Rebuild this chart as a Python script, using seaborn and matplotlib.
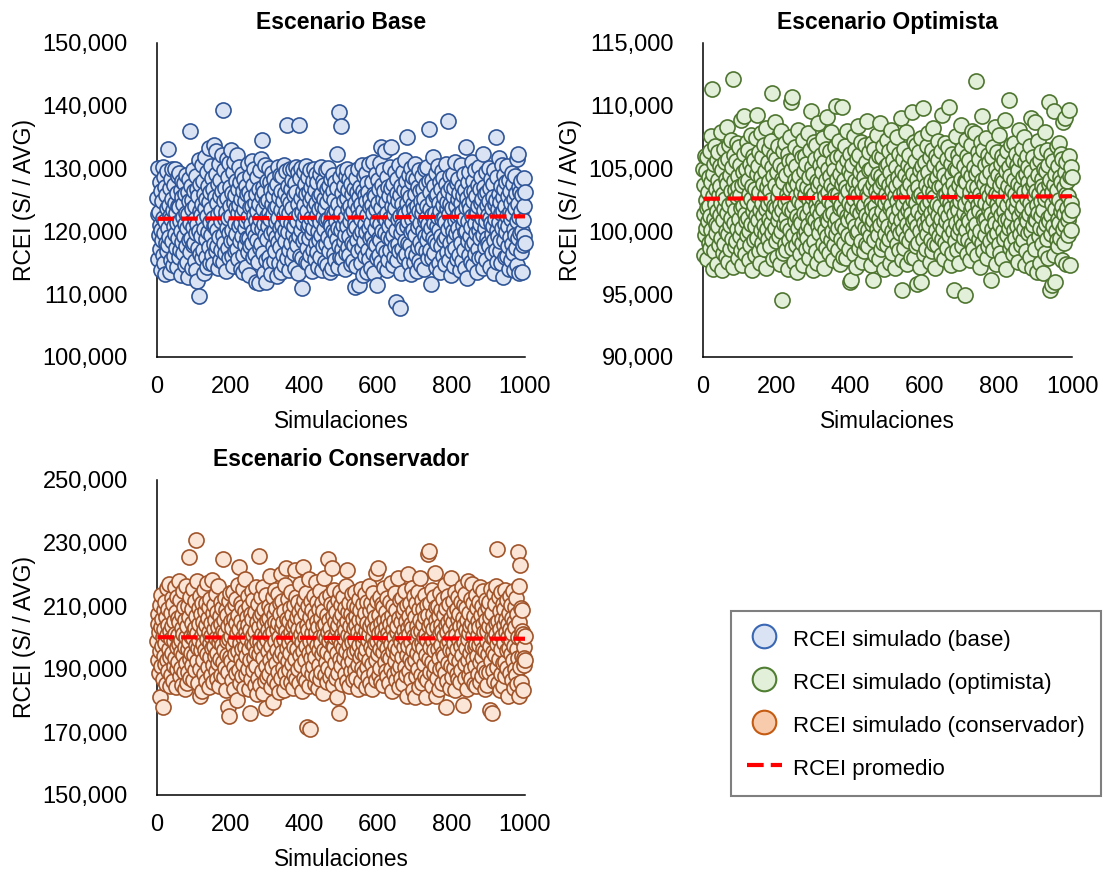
import numpy as np
import pandas as pd
import matplotlib
matplotlib.use('Agg')
import matplotlib.pyplot as plt
import seaborn as sns
from matplotlib.ticker import FuncFormatter
from matplotlib.lines import Line2D

# RCEI simulado por escenario (S/ / AVG), 1000 simulaciones cada uno
rcei_base = [
    125300, 122800, 130100, 115600, 119400, 123100, 127900, 117200, 121000, 113800, 126400, 120300, 118700, 124900, 130200, 116300, 122100, 128600, 114900, 119800,
    127100, 121600, 113200, 125800, 118100, 129600, 123700, 116900, 120600, 133100, 117800, 124200, 119100, 126900, 113600, 122500, 128300, 115400, 121900, 125100,
    118400, 129900, 114700, 123400, 120900, 127400, 116100, 124600, 119600, 130000, 117400, 122900, 126100, 114300, 121300, 128900, 118900, 124000, 115900, 123900,
    129300, 117000, 121700, 126600, 113100, 120100, 125500, 118300, 128100, 122300, 116600, 124400, 119300, 127700, 114600, 121100, 125900, 117600, 129000, 123000,
    115100, 120500, 126200, 112800, 122700, 118600, 128400, 124800, 136000, 116700, 121400, 127200, 119000, 125000, 114100, 123600, 117900, 129700, 120700, 126500,
    118200, 124100, 115300, 122000, 128800, 119700, 113900, 126700, 121200, 112100, 117300, 125700, 120000, 131300, 109700, 123300, 127600, 116400, 122600, 119200,
    130600, 115700, 124300, 121800, 117100, 128000, 113400, 126000, 120400, 123800, 131900, 116000, 125200, 118800, 129400, 122400, 114400, 127300, 119900, 124700,
    133300, 117500, 121500, 126300, 115000, 130400, 119500, 123500, 128500, 116200, 122200, 114800, 126800, 120800, 133700, 118000, 125400, 121000, 129100, 116800,
    132800, 120200, 124500, 117700, 127500, 114200, 122800, 130800, 119100, 125600, 115500, 128200, 121600, 123200, 117000, 132200, 126400, 119400, 115200, 139300,
    124900, 118100, 129800, 121900, 116500, 126900, 113700, 123100, 131500, 120600, 125300, 117400, 128700, 122100, 115800, 130900, 119800, 124000, 127000, 118500,
    133000, 122500, 116100, 126100, 120300, 129500, 114500, 124600, 118700, 131100, 121400, 125800, 116900, 128000, 119600, 123700, 132100, 117200, 122900, 126700,
    115600, 130300, 120900, 124200, 118400, 127800, 121300, 114000, 125100, 119300, 129200, 122700, 116300, 126500, 113500, 123500, 128400, 120500, 117800, 124800,
    114300, 127200, 121700, 118900, 125900, 130700, 116700, 122300, 119000, 126200, 113000, 123900, 128900, 117600, 121100, 125500, 131200, 118200, 124100, 120100,
    127400, 115900, 122600, 130000, 119200, 124500, 116400, 112000, 126000, 121800, 118600, 128600, 123300, 115100, 120700, 126800, 111800, 124300, 129700, 117300,
    122000, 131600, 118000, 125700, 134500, 120400, 116600, 123600, 127100, 113300, 121200, 126300, 119500, 130500, 115400, 124700, 111900, 122400, 128100, 118800,
    125000, 120800, 130100, 116000, 123000, 127900, 114800, 121900, 126600, 119700, 113200, 124400, 129300, 117700, 122800, 125600, 115300, 120000, 128300, 123800,
    116800, 126900, 121500, 119100, 112900, 127600, 124000, 118300, 130200, 122100, 115000, 125400, 120600, 129000, 117500, 123400, 113600, 126400, 121000, 119400,
    128800, 116200, 124900, 122500, 114600, 130600, 120200, 126100, 118500, 123200, 129600, 115700, 121700, 137000, 125200, 119900, 127300, 113800, 122900, 117100,
    124600, 130000, 118100, 126800, 121400, 115500, 128200, 123700, 119600, 129900, 116500, 125800, 120900, 114100, 127700, 122200, 118700, 126200, 130300, 121600,
    117900, 124300, 129500, 113400, 137000, 122700, 119300, 128500, 116100, 125300, 120300, 130100, 123100, 115800, 111000, 126500, 121300, 118400, 129400, 124200,
    119000, 127500, 122400, 115200, 125900, 130400, 117400, 123300, 120700, 128700, 114900, 126300, 121100, 118900, 124800, 129800, 116300, 122100, 127000, 119800,
    113700, 125500, 120500, 128100, 117000, 123900, 130000, 115600, 126600, 121900, 118200, 124500, 129200, 116700, 122600, 127900, 114400, 120100, 125700, 123500,
    118600, 129100, 121500, 116000, 126000, 130200, 119500, 124100, 113900, 122300, 128000, 117700, 125100, 120400, 127400, 115100, 123700, 129700, 118000, 121800,
    126700, 114700, 124700, 119100, 130100, 122000, 116800, 127200, 121200, 125600, 113500, 120800, 128400, 118300, 123000, 114200, 126400, 120000, 129000, 122800,
    116400, 125000, 119700, 127800, 115400, 123400, 121700, 126900, 118800, 132300, 120600, 114300, 124400, 117600, 139000, 122500, 115900, 128600, 120200, 136800,
    123100, 117200, 126100, 115700, 129600, 121000, 124900, 118500, 127300, 114000, 122200, 119400, 128800, 116600, 125300, 120900, 130000, 117500, 123600, 126600,
    119200, 128300, 116200, 124000, 121600, 114800, 127600, 122700, 118100, 125900, 129400, 115300, 123300, 120300, 126800, 117800, 111200, 124600, 121400, 128500,
    114500, 120700, 126200, 118700, 123800, 116900, 129900, 122400, 111500, 125400, 119600, 127100, 115000, 121900, 124300, 117300, 130500, 120000, 126500, 113100,
    123200, 128900, 118400, 121100, 125800, 116100, 129300, 119900, 124800, 113600, 122600, 127700, 117100, 126300, 120500, 130800, 115600, 123900, 118900, 125200,
    121300, 114100, 127900, 119300, 124200, 116500, 131000, 122900, 118200, 126000, 113300, 120400, 125600, 117900, 129100, 123500, 115800, 121700, 111500, 128200,
    124500, 119000, 126700, 116300, 130900, 121200, 118600, 133500, 123800, 115200, 127400, 120100, 125100, 117400, 129800, 122300, 114400, 126400, 119700, 132800,
    116700, 124700, 121800, 128600, 113800, 123000, 119100, 127000, 115400, 125700, 120800, 130300, 117000, 122100, 126900, 133500, 118800, 124100, 121500, 114700,
    127500, 119500, 125300, 116000, 122800, 129400, 117600, 123700, 120200, 108700, 126100, 115500, 128300, 121900, 118000, 124900, 130600, 116900, 122500, 107800,
    125800, 119800, 113400, 127200, 121000, 124400, 117200, 129500, 120600, 126600, 115900, 123100, 118500, 131400, 122700, 116400, 128100, 120900, 124600, 135000,
    118100, 126200, 121600, 114900, 129000, 123400, 117800, 125500, 119900, 130100, 113200, 122000, 127800, 116600, 124300, 120300, 128700, 115100, 123600, 130700,
    119400, 125900, 122400, 116200, 128400, 113700, 124000, 120700, 127100, 117500, 123200, 129700, 115300, 121400, 126500, 118300, 124800, 114600, 122900, 128900,
    117300, 123900, 120000, 126800, 114000, 125200, 119200, 129900, 121700, 116800, 127600, 122200, 118700, 130200, 124100, 115700, 121100, 128000, 119600, 136300,
    123500, 117000, 126300, 120500, 111700, 128200, 122600, 115800, 125000, 119000, 131800, 121300, 116500, 127300, 123000, 118400, 125700, 114300, 129300, 120800,
    126000, 118000, 122300, 130400, 115000, 124500, 120200, 127900, 113500, 123300, 119300, 126700, 117700, 129600, 121900, 124200, 116100, 128500, 122100, 118600,
    125400, 114800, 121500, 127500, 119100, 130800, 123800, 116700, 124700, 137500, 120400, 126400, 115400, 122800, 128800, 118200, 124300, 113000, 121200, 127000,
    116900, 123700, 129200, 120100, 125600, 118800, 114500, 126900, 121800, 131100, 117400, 124000, 119700, 127700, 122500, 115600, 125100, 120600, 128300, 116300,
    122700, 126100, 119400, 113900, 124600, 130500, 118100, 123100, 127300, 115300, 121000, 125800, 117100, 129100, 122000, 119900, 126600, 114200, 123900, 133500,
    120000, 112500, 125300, 118500, 127800, 121600, 116200, 124400, 129500, 119200, 123600, 115100, 126200, 120700, 131000, 117800, 122400, 128100, 114700, 124800,
    118300, 126500, 121400, 129800, 116400, 123000, 119800, 125700, 113600, 122900, 127400, 117200, 124100, 120300, 130300, 115800, 126800, 121100, 118900, 124500,
    128600, 116000, 122100, 125200, 119500, 132400, 114100, 123400, 127100, 120500, 117500, 125900, 121700, 129400, 115500, 124200, 119000, 126300, 122600, 118100,
    124900, 130100, 117700, 122200, 126900, 114400, 121300, 128400, 119600, 123800, 116600, 127600, 120900, 125500, 113400, 129700, 118700, 124300, 122000, 135000,
    117000, 125000, 120200, 128700, 115200, 123500, 119300, 126000, 131700, 121500, 116800, 124700, 118400, 127200, 122900, 114900, 130600, 120600, 125400, 112800,
    123200, 126700, 118600, 129000, 121200, 115900, 124000, 119900, 127900, 116100, 122500, 130400, 117600, 125600, 120800, 114000, 128200, 123100, 119100, 126400,
    121900, 115400, 124600, 129300, 118000, 122800, 127500, 116500, 125100, 120400, 113800, 123700, 128900, 119500, 126100, 117300, 121600, 131500, 114600, 132400,
    124400, 118900, 127000, 113300, 122300, 126200, 119700, 128000, 116700, 123300, 113500, 120000, 125800, 117900, 121800, 128500, 119200, 124100, 126300, 118200,
]

rcei_optimista = [
    105000, 101400, 98100, 103700, 106000, 99700, 102500, 100300, 104800, 97800, 101900, 105900, 100800, 103100, 99100, 104300, 102000, 106400, 98700, 101200,
    103900, 100100, 107600, 99300, 111300, 102800, 97000, 104600, 101000, 105400, 98400, 102200, 106800, 100600, 103400, 99900, 105700, 101600, 97400, 104100,
    100400, 106300, 102900, 98900, 103600, 101300, 105200, 99500, 107900, 102300, 96900, 104900, 100900, 103000, 98300, 106600, 101800, 99000, 105500, 102600,
    98000, 104200, 100000, 108300, 101500, 103800, 97600, 105800, 99800, 102100, 106900, 100500, 104500, 98600, 103200, 101100, 107300, 99400, 105100, 112100,
    102400, 97200, 104000, 100700, 106100, 98800, 103300, 101700, 105600, 99200, 102700, 107000, 100200, 104400, 97900, 103500, 101000, 106700, 99600, 102900,
    105300, 98500, 101900, 108900, 100300, 103700, 97300, 104700, 102000, 106200, 99000, 109200, 101400, 103900, 98200, 105000, 100800, 107100, 102400, 99700,
    104100, 101100, 106500, 97700, 103000, 100000, 105400, 98900, 102600, 107700, 100600, 103600, 96900, 104900, 101600, 106000, 99300, 102100, 105700, 100400,
    98100, 103400, 107400, 101200, 104600, 99500, 109300, 102800, 100900, 105200, 98400, 103100, 106300, 101700, 97500, 104300, 100100, 107800, 102300, 99100,
    105900, 101300, 103800, 98600, 106900, 100500, 102900, 104800, 99800, 101800, 108200, 97100, 103500, 100200, 105500, 102200, 99400, 106600, 101000, 104000,
    98800, 103200, 100700, 107200, 102500, 105100, 99900, 111000, 101500, 104400, 97800, 102000, 106100, 100300, 103700, 108700, 99200, 105800, 101900, 98000,
    104700, 100900, 102700, 106800, 99600, 103300, 101400, 97400, 105300, 102100, 108000, 100000, 94500, 104200, 101700, 106400, 98300, 103900, 100600, 105000,
    102300, 99000, 107000, 101100, 104500, 98500, 103000, 100400, 106200, 97000, 102600, 105600, 99300, 101800, 107500, 103400, 100100, 104900, 110300, 98700,
    101600, 110700, 103600, 99700, 105700, 102000, 97600, 104100, 100800, 106700, 98900, 102800, 105200, 101200, 96800, 103800, 100300, 108100, 102400, 99400,
    104400, 101000, 106300, 98200, 103100, 100700, 105900, 99100, 102200, 107300, 97300, 103700, 101500, 104800, 99800, 106000, 102900, 100000, 98600, 105400,
    101300, 103500, 99500, 107800, 100500, 104300, 97900, 102500, 106500, 101900, 98800, 109600, 103200, 100200, 105100, 102700, 96900, 104600, 101100, 107100,
    99200, 103000, 105800, 100900, 102100, 98400, 106900, 101700, 104000, 97500, 103600, 100400, 108600, 102600, 99900, 105300, 101400, 103900, 98100, 106100,
    100600, 104700, 102000, 99000, 107400, 101800, 103300, 97100, 105500, 100100, 102800, 106600, 98700, 104100, 101000, 109100, 99600, 103100, 105000, 100800,
    102400, 98300, 106400, 101300, 104400, 99300, 103700, 107900, 100000, 102200, 97700, 105600, 101500, 104900, 98900, 103400, 100700, 106700, 102900, 110000,
    99800, 104200, 101100, 105900, 98500, 103000, 100300, 107200, 102500, 97400, 104600, 101900, 106000, 99400, 102100, 109900, 100500, 103800, 98000, 105200,
    101600, 104100, 99100, 106800, 102700, 100200, 103500, 97900, 105700, 101200, 108000, 99700, 103200, 100900, 104800, 98600, 102300, 106200, 96000, 101400,
    104500, 96100, 102000, 105300, 99500, 103600, 101000, 107600, 98200, 102600, 104000, 100400, 106500, 97200, 103100, 101700, 105800, 99900, 102900, 108400,
    100000, 103900, 98700, 106100, 101500, 104700, 99200, 102400, 107100, 100700, 103300, 97600, 105100, 101900, 104300, 98400, 102100, 106900, 100300, 103700,
    99000, 105500, 101300, 103000, 108800, 100100, 102700, 98800, 104900, 101100, 106300, 99600, 103400, 97300, 105000, 102200, 100600, 107000, 101800, 96100,
    103800, 100900, 106600, 99300, 104200, 102000, 98100, 105600, 101400, 103200, 107700, 100200, 102800, 99700, 104600, 97800, 106000, 101000, 103500, 108600,
    100500, 104400, 98600, 102500, 105900, 101600, 99100, 103900, 106800, 100800, 97000, 104100, 102300, 99800, 105200, 101200, 103000, 107300, 98900, 102600,
    105400, 100400, 103700, 99400, 106400, 101900, 97500, 104700, 102100, 108100, 100000, 103300, 98300, 105700, 101500, 104000, 99600, 106700, 102800, 100700,
    97100, 103600, 101100, 105100, 99000, 102400, 107500, 100300, 104300, 98500, 101800, 106200, 102900, 99900, 103900, 109000, 100900, 104800, 97700, 95300,
    102200, 105800, 100100, 103100, 98700, 106600, 101300, 104500, 99500, 102700, 107900, 100600, 103400, 97400, 105300, 101700, 104100, 99200, 106100, 102000,
    100200, 103800, 98000, 105000, 101400, 109500, 99700, 102500, 104600, 100800, 107100, 97900, 103200, 101000, 105600, 98800, 102300, 106900, 100400, 104200,
    95800, 101600, 103500, 99100, 106300, 102800, 100000, 104900, 97200, 103000, 96000, 107400, 101200, 105200, 99400, 102600, 109800, 100700, 104400, 98200,
    101900, 105500, 100300, 103700, 98600, 106800, 102100, 99800, 104700, 101100, 107800, 100500, 103300, 97600, 105900, 102400, 99300, 104000, 101500, 106500,
    98400, 103100, 100900, 108200, 102700, 99000, 105300, 101800, 103900, 97100, 106000, 100100, 104300, 102200, 98900, 105700, 101300, 107200, 99600, 103500,
    100600, 104800, 102000, 98100, 106400, 101000, 109300, 99400, 103600, 100200, 105100, 97800, 102900, 104500, 101600, 107000, 99100, 103000, 100800, 105800,
    102500, 98700, 104100, 101200, 106700, 99700, 103400, 109900, 100400, 102300, 97300, 105400, 101900, 104600, 98300, 106200, 100000, 103800, 102800, 95300,
    101400, 105000, 99200, 103200, 107600, 100700, 102100, 98500, 104900, 101700, 106100, 99900, 103700, 97500, 105600, 102400, 100300, 108500, 101000, 104200,
    98800, 102900, 106600, 100500, 103300, 99500, 105200, 101500, 94900, 104000, 102200, 107300, 100100, 103900, 98200, 106000, 101100, 104700, 99300, 102600,
    105700, 100800, 103100, 97700, 106900, 101800, 104400, 99000, 102000, 108000, 100300, 103600, 98600, 105100, 101300, 107800, 99800, 102700, 104600, 112000,
    100600, 103500, 98100, 106300, 102100, 104900, 99400, 101600, 105800, 97200, 103000, 100000, 107100, 102500, 109200, 99100, 104100, 101200, 106500, 98400,
    103800, 100900, 105300, 99700, 102300, 107400, 101000, 104300, 97900, 103200, 100400, 106100, 98800, 102800, 105500, 101700, 99200, 104700, 102000, 96100,
    101400, 105900, 100200, 103400, 98500, 106700, 102600, 99600, 104000, 101100, 108300, 100700, 103000, 97400, 105000, 102200, 99900, 106300, 101800, 104500,
    99000, 102900, 107700, 100500, 103700, 98300, 105400, 101300, 104200, 97800, 106000, 102400, 100000, 103900, 99400, 105700, 101600, 108900, 100900, 103100,
    97000, 104800, 102100, 99700, 106400, 101000, 103600, 100300, 105100, 110500, 98700, 102700, 104400, 100700, 106900, 99100, 103300, 101500, 105600, 98200,
    102200, 107000, 100100, 104100, 99500, 103000, 101900, 106200, 98600, 102500, 105300, 100400, 103800, 97600, 104900, 101200, 108100, 99800, 102800, 105800,
    100600, 103500, 98900, 106600, 101700, 104300, 99300, 102000, 107500, 100200, 103100, 97300, 105500, 101100, 104600, 98400, 102600, 106000, 100800, 103900,
    99900, 105100, 101400, 103300, 98000, 106800, 102300, 100000, 104700, 109000, 101800, 97100, 103700, 100500, 105900, 102900, 99200, 104000, 101000, 108700,
    98600, 103200, 100900, 105400, 102100, 96800, 104500, 101500, 107200, 99600, 103000, 100300, 105700, 97500, 102400, 106300, 101200, 104200, 99000, 103600,
    101700, 96700, 105000, 100100, 103400, 107900, 98300, 102600, 104800, 100600, 106500, 99400, 102900, 101100, 105300, 97900, 103800, 100800, 110300, 95300,
    104100, 101300, 106100, 99800, 103100, 95700, 102200, 105600, 100400, 109600, 98100, 103700, 101800, 96000, 104600, 102700, 100000, 106800, 99300, 103300,
    101000, 105200, 98800, 102500, 107000, 100700, 104300, 99500, 103900, 101600, 106200, 97700, 102000, 105800, 100200, 108700, 99100, 103500, 101400, 104700,
    109000, 100500, 97400, 103000, 105500, 101900, 104000, 99700, 102800, 100900, 109700, 106000, 101300, 97300, 104400, 102300, 100100, 105100, 101700, 104300,
]

rcei_conservador = [
    199000, 207500, 193000, 204400, 188600, 201700, 210300, 195800, 181000, 203200, 190900, 213600, 197400, 205900, 186900, 200300, 178000, 208700, 194100, 202600,
    191700, 211200, 198300, 185100, 206600, 200900, 215700, 192800, 204000, 189500, 209100, 196200, 217000, 184700, 202100, 193900, 207900, 199600, 188100, 212400,
    195200, 203800, 186300, 210600, 198800, 191100, 205300, 216100, 193500, 201200, 184200, 208200, 196900, 213000, 189900, 200700, 206100, 192300, 217800, 198000,
    204900, 187700, 211800, 195500, 199300, 190400, 207100, 184900, 202900, 214900, 194600, 201000, 188900, 209600, 197100, 205600, 183500, 216500, 192000, 200100,
    185700, 203500, 196400, 210100, 189200, 225500, 198600, 206400, 193300, 187200, 212900, 200500, 195000, 204600, 191400, 208900, 199900, 186600, 215300, 202400,
    194300, 211500, 189700, 203100, 197700, 206900, 231000, 192600, 201400, 218000, 196600, 185400, 209300, 199200, 204200, 190100, 213300, 181500, 207400, 195900,
    200800, 183000, 210900, 197900, 205000, 192900, 215000, 188400, 202300, 196100, 208500, 186100, 203900, 211000, 194900, 199500, 217400, 190700, 206300, 201900,
    184400, 209800, 198100, 193700, 212100, 188200, 204700, 200400, 196800, 218200, 191300, 207700, 185900, 202800, 197300, 210400, 194000, 205400, 189400, 213800,
    199800, 186800, 208000, 195100, 203300, 191900, 216300, 198500, 184600, 206700, 200000, 193100, 211400, 188000, 204300, 197600, 209400, 225000, 192200, 202000,
    187400, 205700, 196000, 212600, 190300, 201500, 183300, 208600, 198900, 194400, 207000, 178000, 203600, 189100, 211700, 199400, 175000, 214100, 193800, 205200,
    192500, 200600, 209000, 186400, 203000, 197200, 214400, 190600, 206000, 183800, 199100, 210700, 194800, 204500, 188700, 212300, 180000, 201300, 216800, 195600,
    207300, 189600, 202700, 222500, 198200, 185600, 211100, 193200, 205100, 196500, 209700, 187900, 200200, 215500, 191600, 203700, 184100, 208400, 197000, 218600,
    194200, 201600, 188300, 206500, 199700, 213200, 190000, 204100, 183600, 209900, 196300, 176000, 202500, 192700, 207600, 186700, 214700, 198400, 205800, 189800,
    200900, 211900, 193600, 197500, 185000, 208100, 202200, 190800, 216000, 195300, 204800, 182000, 199000, 210500, 187000, 203400, 226000, 194700, 206800, 198700,
    184800, 212700, 196700, 201100, 189300, 207800, 193400, 215900, 182500, 204300, 197800, 209200, 186200, 200400, 177500, 213500, 191000, 205500, 199300, 187600,
    202400, 195700, 210000, 188500, 206200, 193000, 219500, 200700, 184300, 208800, 197400, 203900, 190500, 212800, 179500, 201800, 194500, 207200, 186500, 215100,
    198900, 205000, 191800, 209500, 185300, 202600, 196000, 213700, 189000, 204700, 200100, 182700, 210800, 194000, 207500, 198600, 220000, 187300, 203200, 195400,
    211600, 190200, 204900, 183200, 199600, 208300, 193700, 216600, 188800, 202100, 222000, 196800, 206000, 185800, 200500, 212200, 192400, 205300, 198100, 189700,
    209400, 195000, 201900, 186000, 214300, 199400, 191500, 207000, 183900, 203500, 197000, 210300, 188200, 204600, 221500, 193300, 200800, 213000, 186800, 206400,
    196200, 202800, 189900, 211300, 199900, 185500, 208000, 194300, 216900, 201000, 191200, 205900, 198500, 183100, 209700, 222500, 195800, 203000, 187100, 212000,
    200000, 192800, 207700, 186300, 214000, 197200, 204000, 171500, 210100, 189600, 202300, 195100, 218500, 184500, 206600, 199000, 170800, 211500, 193500, 201400,
    188400, 208700, 196400, 204200, 190800, 213100, 199200, 185200, 207300, 193900, 217600, 201600, 187800, 205100, 197600, 211200, 184000, 203300, 195900, 209100,
    191400, 200300, 214800, 186900, 206100, 198300, 189200, 210900, 194700, 203600, 182300, 208500, 200700, 196100, 219000, 188000, 204400, 192100, 212500, 199700,
    185900, 207000, 195500, 201800, 225000, 190300, 205700, 198800, 213400, 187500, 203100, 194200, 210600, 200200, 222000, 189100, 206900, 197300, 184800, 209900,
    196900, 215200, 192000, 204800, 200000, 187200, 208200, 181000, 202700, 195200, 211800, 188600, 203900, 199500, 176000, 214600, 193100, 206300, 197900, 210400,
    190900, 201200, 185100, 207600, 196600, 212900, 193400, 204000, 199800, 188300, 209300, 202500, 195700, 216200, 186100, 205200, 221500, 191900, 200900, 208000,
    197500, 184600, 211000, 194600, 203800, 189400, 207400, 200100, 213800, 192500, 198700, 205800, 186600, 210200, 195400, 202900, 189800, 214500, 199100, 206700,
    187000, 204100, 196000, 209600, 191300, 201700, 183700, 212200, 197700, 205400, 193800, 208800, 200600, 186200, 215400, 195000, 203000, 190200, 210700, 198200,
    205900, 188900, 200400, 213700, 194400, 207900, 184200, 202000, 196500, 211400, 190600, 204500, 199300, 187600, 216400, 201100, 193000, 208300, 185400, 203700,
    197100, 210800, 191700, 205000, 183500, 200000, 214200, 195800, 202600, 188700, 209000, 198400, 206500, 192900, 220500, 186500, 203400, 199000, 211600, 222000,
    194800, 201500, 188100, 207200, 196200, 213000, 190400, 204700, 199600, 186000, 210500, 202100, 195300, 209800, 184900, 205600, 197800, 215800, 192300, 200700,
    208100, 189300, 203200, 196800, 212600, 187700, 201300, 194100, 206000, 199900, 185700, 211300, 193600, 204300, 198000, 217300, 190000, 207100, 183000, 202800,
    195600, 210000, 188500, 205200, 200300, 192600, 214100, 197400, 186400, 208600, 201900, 194900, 203600, 189700, 218800, 196300, 206200, 184400, 211900, 199400,
    191000, 204900, 198500, 187300, 212400, 200800, 193700, 207700, 185200, 202400, 196900, 209400, 190700, 214900, 199800, 188000, 205300, 181500, 210200, 194500,
    203000, 197200, 220000, 189500, 206800, 201200, 193200, 211100, 186800, 204200, 198600, 215600, 191800, 202900, 183400, 208400, 196100, 213300, 200500, 181000,
    206400, 192700, 199700, 210900, 187900, 203800, 195200, 214400, 190100, 201600, 184300, 208900, 197500, 205700, 193900, 219000, 188200, 202200, 198100, 211800,
    185600, 204400, 196700, 209200, 191500, 200200, 213600, 187400, 206600, 194300, 201000, 181000, 210400, 199100, 186500, 207300, 226500, 193100, 203500, 227500,
    197000, 211000, 189000, 204600, 200000, 192200, 215100, 184700, 207500, 198800, 202700, 188800, 212700, 195900, 220500, 190800, 205500, 181500, 209700, 199500,
    187100, 203300, 196400, 210100, 193400, 206900, 183800, 201400, 214000, 189900, 204100, 197700, 208600, 185500, 202000, 195100, 212100, 190500, 200600, 207000,
    194200, 216700, 188600, 203900, 178000, 209500, 197900, 201800, 186300, 213200, 192000, 205000, 199000, 210600, 184100, 203100, 196000, 219000, 191100, 206100,
    200100, 187600, 211700, 195600, 204800, 190200, 208000, 198400, 183200, 214300, 193500, 202500, 200900, 188400, 209100, 196300, 205900, 186700, 212900, 199300,
    192400, 207400, 185800, 203600, 197300, 211400, 189700, 201100, 215900, 194600, 206300, 178500, 210300, 198700, 204000, 191600, 213900, 187200, 202300, 196600,
    209300, 183700, 205400, 199600, 192900, 218000, 201300, 188100, 207800, 195200, 203700, 190000, 212300, 186900, 217000, 197100, 204500, 193300, 210800, 200400,
    185300, 206700, 196900, 202900, 190900, 213500, 198000, 184600, 209400, 194000, 205100, 200800, 188300, 211200, 197600, 203200, 192100, 216100, 186000, 207100,
    199200, 193800, 210000, 187700, 204300, 196500, 214800, 190400, 201700, 183600, 208200, 195700, 205600, 189200, 212000, 198900, 202100, 185000, 209800, 194800,
    203500, 188900, 211300, 197200, 177000, 206500, 192500, 215400, 200200, 176000, 207900, 195300, 203000, 189600, 213700, 199900, 186200, 210700, 194400, 204600,
    201000, 216500, 190700, 228000, 197800, 205300, 185700, 212800, 199400, 193100, 208300, 183300, 202700, 196200, 214600, 188500, 206000, 200600, 191900, 210500,
    184500, 203900, 198300, 209000, 192300, 215200, 187800, 201900, 205800, 195900, 211900, 190300, 204200, 181500, 200300, 207700, 196800, 213100, 188700, 202800,
    194700, 210200, 199200, 186400, 206200, 201500, 192800, 214700, 183900, 204900, 197400, 209600, 190000, 203300, 188000, 212600, 196400, 185300, 207600, 200000,
    193600, 227000, 181500, 205000, 216500, 190600, 223000, 199700, 185900, 209300, 202200, 194100, 208800, 183400, 201200, 197000, 191200, 193500, 200500, 193000,
]

# RCEI promedio (inicio y fin de la linea de tendencia)
prom_base = [122000, 122400]
prom_optimista = [102600, 102800]
prom_conservador = [200100, 199600]

titulos = ['Escenario Base', 'Escenario Optimista', 'Escenario Conservador']
ylims = [(100000, 150000), (90000, 115000), (150000, 250000)]
ysteps = [10000, 5000, 20000]
etiquetas = ['RCEI simulado (base)', 'RCEI simulado (optimista)',
             'RCEI simulado (conservador)', 'RCEI promedio']

relleno = ['#DAE3F3', '#E2F0D9', '#FBE5D6']
borde = ['#2F5597', '#4E7530', '#A0542A']
relleno_ley = ['#DAE3F3', '#E2F0D9', '#F8CBAD']
borde_ley = ['#3A67B4', '#507E32', '#C55A11']

sns.set_style('white')
plt.rcParams['font.family'] = ['Liberation Sans', 'DejaVu Sans']
plt.rcParams['text.color'] = 'black'
plt.rcParams['axes.labelcolor'] = 'black'
plt.rcParams['xtick.color'] = 'black'
plt.rcParams['ytick.color'] = 'black'

fig = plt.figure(figsize=(11.04, 8.73), dpi=100)
W, H = 1104, 873
ax1 = fig.add_axes([157 / W, 1 - 357 / H, 368 / W, 314 / H])
ax2 = fig.add_axes([703 / W, 1 - 357 / H, 369 / W, 314 / H])
ax3 = fig.add_axes([157 / W, 1 - 795 / H, 368 / W, 315 / H])

dash = (0, (4, 1.7))
series = [rcei_base, rcei_optimista, rcei_conservador]
proms = [prom_base, prom_optimista, prom_conservador]

for i, ax in enumerate([ax1, ax2, ax3]):
    vals = series[i]
    df = pd.DataFrame({'sim': np.arange(1, len(vals) + 1), 'rcei': vals})
    sns.scatterplot(data=df, x='sim', y='rcei', ax=ax, s=118, color=relleno[i],
                    edgecolor=borde[i], linewidth=1.2, legend=False,
                    clip_on=False, zorder=3)
    ax.plot([df['sim'].iloc[0], df['sim'].iloc[-1]], proms[i], color='red',
            lw=3, ls=dash, zorder=4, clip_on=False)
    ax.set_xlim(0, 1000)
    ax.set_ylim(*ylims[i])
    ax.set_xticks(np.arange(0, 1001, 200))
    ax.set_yticks(np.arange(ylims[i][0], ylims[i][1] + 1, ysteps[i]))
    ax.yaxis.set_major_formatter(FuncFormatter(lambda v, p: f'{v:,.0f}'))
    ax.tick_params(axis='both', length=0, labelsize=17, colors='black')
    ax.tick_params(axis='y', pad=21)
    ax.tick_params(axis='x', pad=14)
    for s in ['top', 'right']:
        ax.spines[s].set_visible(False)
    for s in ['left', 'bottom']:
        ax.spines[s].set_color('black')
        ax.spines[s].set_linewidth(1.1)
    ax.set_title(titulos[i], fontsize=16.5, fontweight='bold', pad=10, color='black')
    ax.set_xlabel('Simulaciones', fontsize=16.3, labelpad=8, color='black')
    ax.set_ylabel('RCEI (S/ / AVG)', fontsize=16.5, labelpad=5, color='black')

handles = [Line2D([], [], ls='', marker='o', markersize=17,
                  markerfacecolor=relleno_ley[k], markeredgecolor=borde_ley[k],
                  markeredgewidth=1.5) for k in range(3)]
handles.append(Line2D([], [], color='red', lw=3, ls=dash))
leg = fig.legend(handles, etiquetas, loc='upper left',
                 bbox_to_anchor=(731 / W, 1 - 611 / H), borderaxespad=0,
                 fontsize=16, frameon=True, fancybox=False, framealpha=1,
                 edgecolor='#7F7F7F', labelspacing=0.81, borderpad=0.7,
                 handlelength=1.6, handleheight=1.35, handletextpad=0.5)
leg.get_frame().set_linewidth(1.5)

fig.savefig('out.png', dpi=100)
